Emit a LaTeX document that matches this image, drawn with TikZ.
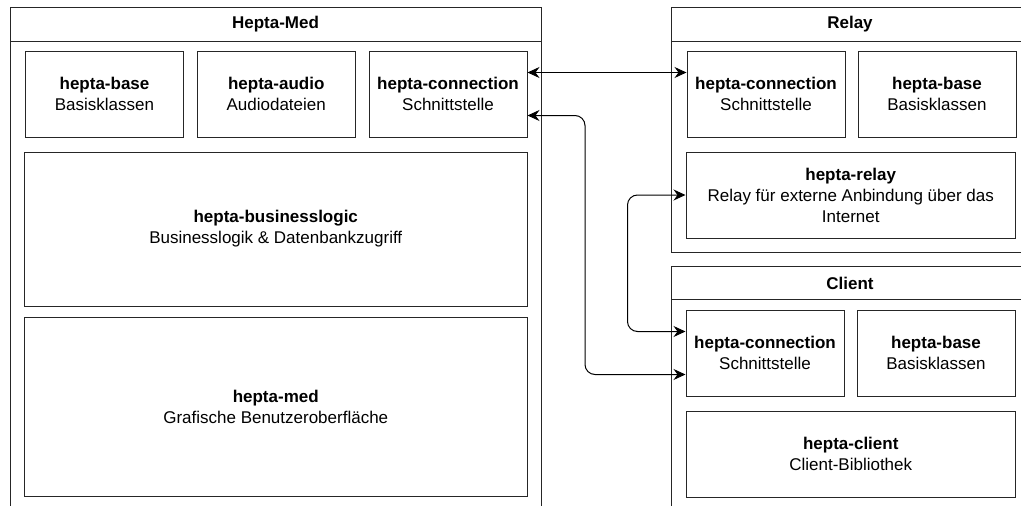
\documentclass[tikz,border=0pt]{standalone}
\usepackage{fontspec}
\setmainfont{Liberation Sans}
\usetikzlibrary{arrows.meta}

\begin{document}
\begin{tikzpicture}[
    x=1pt,y=-1pt,font=\fontsize{17}{21}\selectfont,
    frame/.style={line width=1pt,draw=black!85},
    heading/.style={font=\fontsize{17}{21}\selectfont\bfseries},
    module/.style={draw=black!85,line width=1pt,align=center,inner sep=0pt,
        minimum height=86pt},
    small/.style={module,minimum width=158pt},
    wide/.style={module,minimum width=329.5pt},
    link/.style={line width=1pt,rounded corners=10pt,
        {Stealth[length=12pt,width=11pt,inset=4pt]}-{Stealth[length=12pt,width=11pt,inset=4pt]}}
]
    \useasboundingbox (0,0) rectangle (1021,506);
    \clip (0,0) rectangle (1021,506);

    % Containers run on past the right and lower page edge.
    \foreach \xl/\yt/\xr/\yb/\heading in
        {10/7.5/541/530/Hepta-Med,671/7.5/1029/252/Relay,671/266/1029/530/Client} {
        \draw[frame] (\xl,\yt) rectangle (\xr,\yb);
        \draw[frame] (\xl,\yt+33.5) -- (\xr,\yt+33.5);
        \node[heading] at ({(\xl+\xr)/2},\yt+17) {\heading};
    }

    % Hepta-Med modules.
    \node[small] (medbase) at (104.5,94) {\textbf{hepta-base}\\Basisklassen};
    \node[small] (medaudio) at (276.25,94) {\textbf{hepta-audio}\\Audiodateien};
    \node[small] (medconn) at (448,94) {\textbf{hepta-connection}\\Schnittstelle};
    \node[module,minimum width=502.5pt,minimum height=154pt] (bizlogic) at (275.75,229)
        {\textbf{hepta-businesslogic}\\Businesslogik \& Datenbankzugriff};
    \node[module,minimum width=502.5pt,minimum height=179.5pt] (medgui) at (275.75,406.75)
        {\textbf{hepta-med}\\Grafische Benutzeroberfläche};

    % Relay modules.
    \node[small] (relayconn) at (766,94) {\textbf{hepta-connection}\\Schnittstelle};
    \node[small] (relaybase) at (937,94) {\textbf{hepta-base}\\Basisklassen};
    \node[wide] (relaymain) at (850.75,195)
        {\textbf{hepta-relay}\\Relay für externe Anbindung über das\\Internet};

    % Client modules.
    \node[small] (clientconn) at (765,353) {\textbf{hepta-connection}\\Schnittstelle};
    \node[small] (clientbase) at (936,353) {\textbf{hepta-base}\\Basisklassen};
    \node[wide] (clientlib) at (850.75,454) {\textbf{hepta-client}\\Client-Bibliothek};

    % Connections between the hepta-connection modules.
    \coordinate (lowbus) at (585,0);
    \coordinate (highbus) at (627.5,0);
    \coordinate (clienthigh) at ([yshift=21.5pt]clientconn.west);
    \coordinate (clientlow) at ([yshift=-21.5pt]clientconn.west);
    \draw[link] ([yshift=21.5pt]medconn.east) -- ([yshift=21.5pt]relayconn.west);
    \draw[link] ([yshift=-21.5pt]medconn.east) -| (lowbus |- clientlow) -- (clientlow);
    \draw[link] (relaymain.west) -| (highbus |- clienthigh) -- (clienthigh);
\end{tikzpicture}
\end{document}
